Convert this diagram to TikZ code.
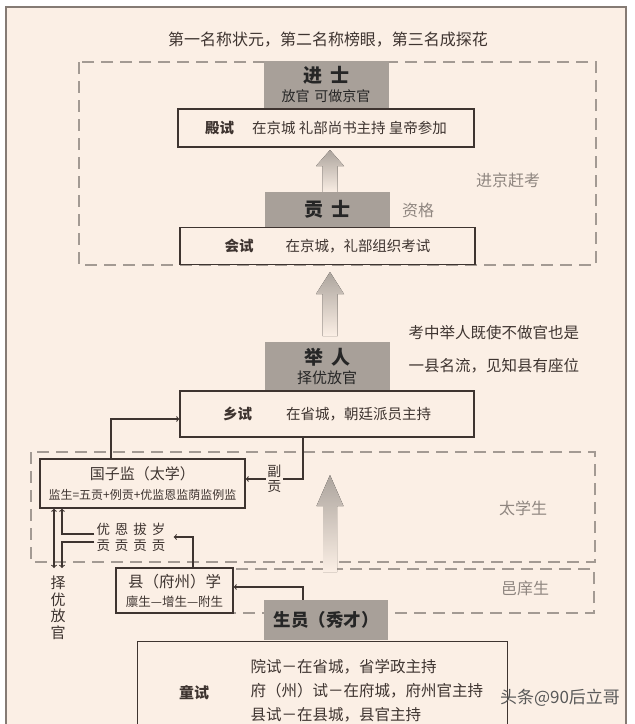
\documentclass[tikz,border=0pt]{standalone}
\usepackage{fontspec}
\setmainfont{Noto Sans CJK SC}
\usepackage{xcolor}
\usepackage{tikz}
\usetikzlibrary{shapes,arrows,positioning,calc}

\definecolor{paper}{RGB}{251,239,229}
\definecolor{frameline}{RGB}{133,123,116}
\definecolor{inkline}{RGB}{62,52,48}
\definecolor{rankfill}{RGB}{168,160,153}
\definecolor{dashline}{RGB}{163,154,147}
\definecolor{notegray}{RGB}{143,134,128}
\definecolor{upgray}{RGB}{172,164,157}

\newcommand{\setfs}[1]{\fontsize{#1}{#1}\selectfont}

\begin{document}
\begin{tikzpicture}[x=1pt, y=-1pt, node distance=0pt, >=to]
    \tikzstyle{examnode} = [draw=inkline, fill=paper, line width=1.3pt, rectangle, inner sep=0pt, text=inkline, font=\setfs{14.5}]
    \tikzstyle{ranknode} = [fill=rankfill, rectangle, inner sep=0pt, minimum width=125pt, align=center, text=black!85, font=\fontsize{14}{19}\selectfont]
    \tikzstyle{zonebox} = [draw=dashline, dash pattern=on 12pt off 7pt, line width=1.1pt]
    \tikzstyle{notetext} = [text=notegray, font=\setfs{16}]
    \tikzstyle{linkline} = [draw=inkline, line width=1.1pt, ->]
    \tikzstyle{uparrow} = [top color=upgray, middle color=upgray, bottom color=paper, draw=none]

    \useasboundingbox (0,0) rectangle (635,724);
    \clip (0,0) rectangle (635,724);
    \fill[white] (0,0) rectangle (635,724);
    \fill[paper] (6,7) rectangle (626,724);
    \draw[frameline, line width=1.5pt] (6,724) -- (6,7) -- (626,7) -- (626,724);

    % Zones
    \draw[zonebox] (79,62) rectangle (596,265);
    \draw[zonebox] (31,452) rectangle (595,562);
    \draw[zonebox] (116,569) rectangle (594,613);

    % Rising arrows
    \fill[uparrow] (322.5,193) -- (322.5,166) -- (316,166) -- (330,150) -- (344,166) -- (337.5,166) -- (337.5,193) -- cycle;
    \fill[uparrow] (322.5,336) -- (322.5,294) -- (316,294) -- (330,272) -- (344,294) -- (337.5,294) -- (337.5,336) -- cycle;
    \fill[uparrow] (323,572) -- (323,506) -- (316.5,506) -- (330,475) -- (343.5,506) -- (337,506) -- (337,572) -- cycle;

    % Nodes
    \node [font=\setfs{16}, text=inkline] (ranking) at (328,40) {第一名称状元，第二名称榜眼，第三名成探花};

    \node [examnode, minimum width=296pt, minimum height=38pt] (dianshi) at (326,128) {\textbf{殿试}\hspace{18pt}在京城 礼部尚书主持 皇帝参加};
    \node [ranknode, minimum height=47pt, above=0pt of dianshi] (jinshi) {{\setfs{19}\bfseries 进\hspace{8pt}士}\\放官\hspace{5pt}可做京官};

    \node [examnode, minimum width=295pt, minimum height=37pt] (huishi) at (327.5,246) {\textbf{会试}\hspace{32pt}在京城，礼部组织考试};
    \node [ranknode, minimum height=35pt, above=0pt of huishi] (gongshi) {{\setfs{19}\bfseries 贡\hspace{8pt}士}};

    \node [examnode, minimum width=294pt, minimum height=46pt] (xiangshi) at (327,414) {\textbf{乡试}\hspace{34pt}在省城，朝廷派员主持};
    \node [ranknode, minimum height=48pt, above=0pt of xiangshi] (juren) {{\setfs{19}\bfseries 举\hspace{8pt}人}\\{\setfs{15}择优放官}};

    \node [examnode, minimum width=205pt, minimum height=49pt, align=center, font=\fontsize{15}{20}\selectfont] (guozijian) at (142.5,483.5) {国子监（太学）\\{\setfs{12}监生=五贡+例贡+优监恩监荫监例监}};
    \node [examnode, minimum width=117pt, minimum height=45pt, align=center, font=\fontsize{15.5}{19}\selectfont] (xianxue) at (174.5,590.5) {县（府州）学\\{\setfs{12.5}廪生—增生—附生}};
    \node [text=inkline, align=center, inner sep=2pt, font=\fontsize{13.5}{16}\selectfont] (gongtext) at (131,537) {优\hspace{5pt}恩\hspace{5pt}拔\hspace{5pt}岁\\贡\hspace{5pt}贡\hspace{5pt}贡\hspace{5pt}贡};
    \node [text=inkline, align=center, anchor=north, inner xsep=0pt, inner ysep=8pt, font=\fontsize{15}{16.5}\selectfont] (zeyou) at (58,568) {择\\优\\放\\官};

    \node [examnode, anchor=north west, minimum width=370pt, minimum height=110pt] (tongshi) at (137,641) {};
    \node [ranknode, minimum width=124pt, minimum height=40pt, font=\setfs{17.5}\bfseries] (shengyuan) at (326,620) {生员（秀才）};
    \node [text=inkline, font=\setfs{15}\bfseries] (tongshilabel) at (194,693) {童试};
    \node [text=inkline, anchor=west, align=left, font=\fontsize{15.5}{24}\selectfont] (tongshirules) at (247,691) {院试－在省城，省学政主持\\府（州）试－在府城，府州官主持\\县试－在县城，县官主持};

    \node [notetext] (jinjing) at (508,180) {进京赶考};
    \node [notetext] (zige) at (418,210) {资格};
    \node [notetext] (taixuesheng) at (523,508) {太学生};
    \node [notetext] (yixiangsheng) at (525,588) {邑庠生};
    \node [text=inkline, anchor=west, align=left, font=\fontsize{15.5}{33}\selectfont] (jurennote) at (405,349.5) {考中举人既使不做官也是\\一县名流，见知县有座位};
    \node [text=black!65, font=\setfs{17}] (mark) at (560,698) {头条@90后立哥};

    % Paths
    \draw [linkline] ([xshift=-31.5pt]guozijian.north) |- ([yshift=-5pt]xiangshi.west);
    \draw [linkline] ([xshift=-24pt]xiangshi.south) |- node [pos=0.75, fill=paper, inner sep=1.5pt, align=center, text=inkline, font=\fontsize{14}{15}\selectfont] {副\\贡} ([yshift=4.5pt]guozijian.east);
    \draw [linkline, shorten >=6pt] ([xshift=18.5pt]xianxue.north) |- (gongtext.east);
    \draw [linkline] ([yshift=3pt]gongtext.west) -| ([xshift=-80.5pt]guozijian.south);
    \draw [linkline] ([yshift=-5pt]gongtext.west) -| ([xshift=4pt]zeyou.north);
    \draw [linkline, <->] ([xshift=-88.5pt]guozijian.south) -- ([xshift=-4pt]zeyou.north);
    \draw [linkline] ([xshift=-23pt]shengyuan.north) |- ([yshift=3.5pt]xianxue.east);
\end{tikzpicture}
\end{document}
